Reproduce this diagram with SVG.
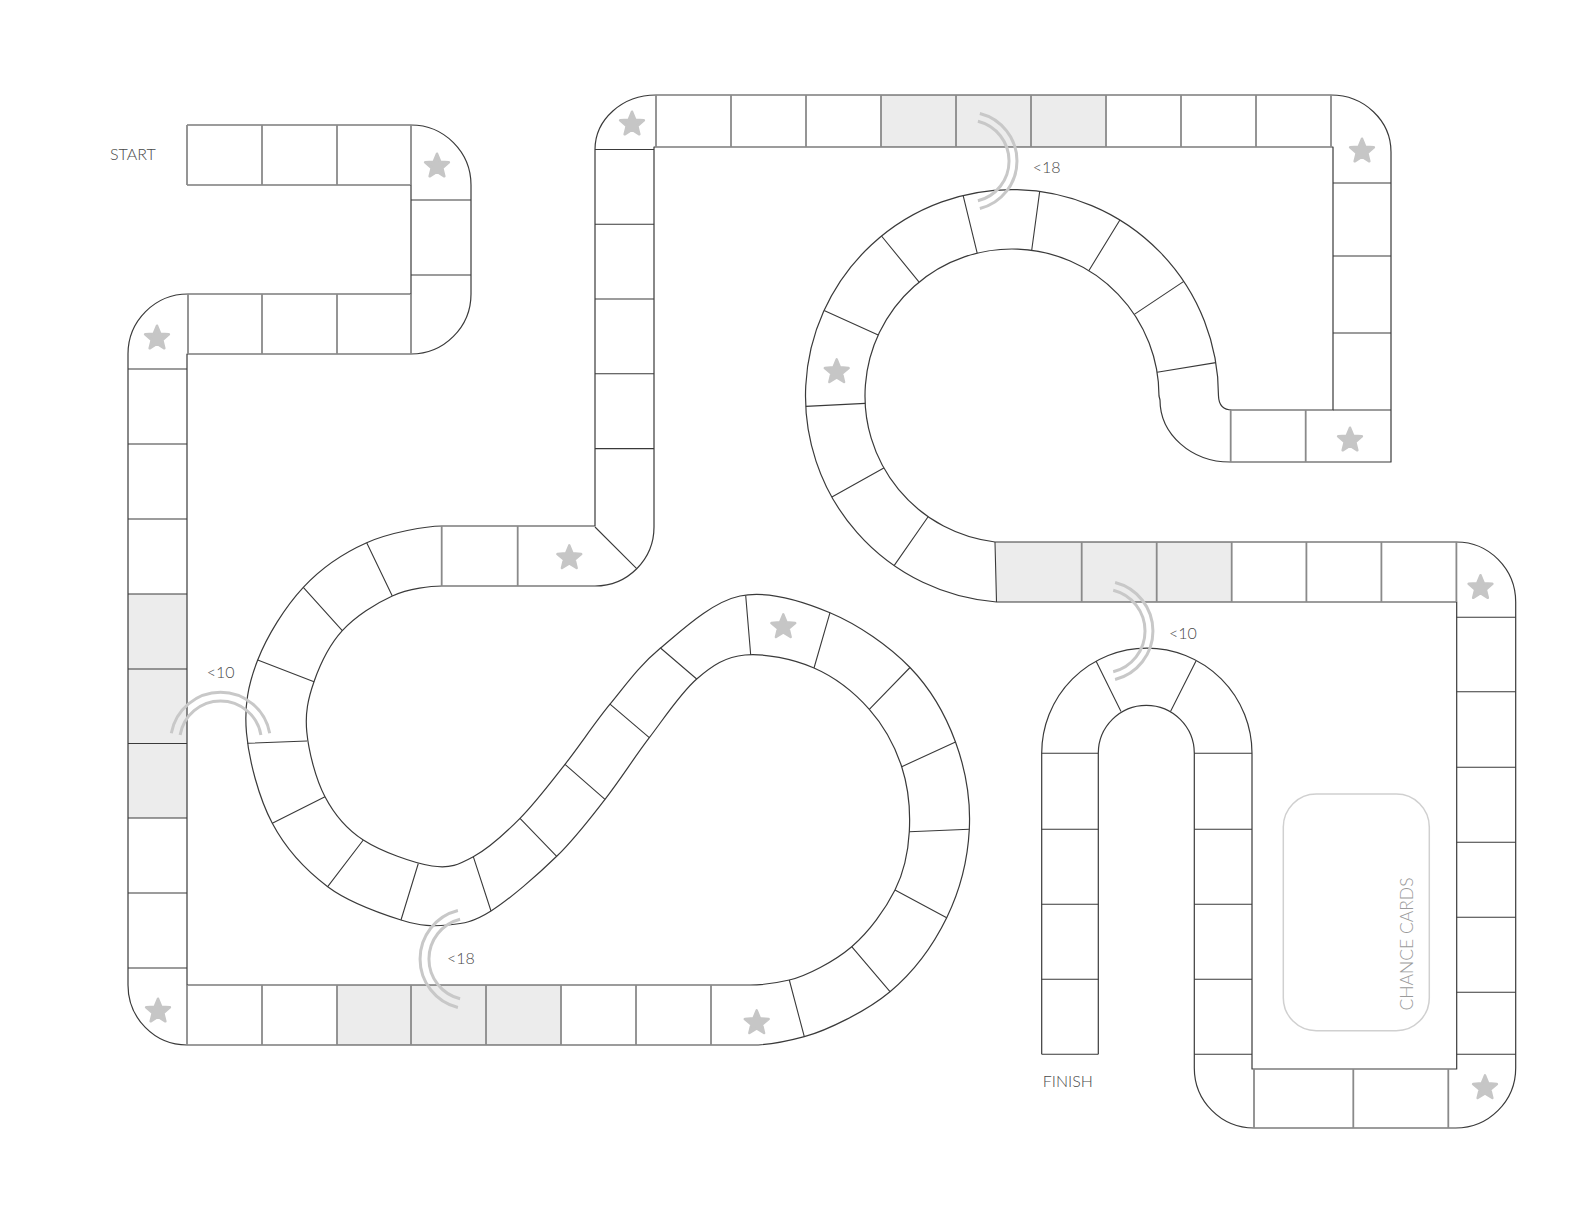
<svg xmlns="http://www.w3.org/2000/svg" xmlns:xlink="http://www.w3.org/1999/xlink" width="1584" height="1224" viewBox="0 0 1584 1224">
<style>
.e{fill:none;stroke:#3a3a3a;stroke-width:1.2;stroke-linejoin:round}
.d{fill:none;stroke:#3a3a3a;stroke-width:1.1}
.v{fill:none;stroke:#8a8a8a;stroke-width:1.8}
.sh{fill:#ececec;stroke:none}
.arc{fill:none;stroke:#c8c8c8;stroke-width:3}
.lbl{font-family:Lato,"Liberation Sans",sans-serif;font-size:16px;fill:#4a4a4a;font-weight:300}
.st{fill:#c6c6c6;stroke:#c6c6c6;stroke-width:2.5;stroke-linejoin:round}
</style>
<defs>
<path id="star" class="st" d="M0,-12.5 L3.29,-4.53 L11.89,-3.86 L5.33,1.73 L7.35,10.11 L0,5.6 L-7.35,10.11 L-5.33,1.73 L-11.89,-3.86 L-3.29,-4.53 Z"/>
</defs>
<rect x="0" y="0" width="1584" height="1224" fill="#fff"/>
<g id="shaded">
<rect class="sh" x="128" y="594" width="59" height="224"/>
<rect class="sh" x="337" y="985" width="224" height="60"/>
<rect class="sh" x="881" y="95" width="225" height="52"/>
<rect class="sh" x="996" y="542" width="235.7" height="60"/>
</g>
<g id="track-edges">
<path class="e" d="M187,125 H411 A60,60 0 0 1 471,185 V294 A60,60 0 0 1 411,354 H187 V985 H750 C763,985 772.3,984 789.3,980 S834.08,961.7 851.7,946.7 S885.4,909.17 895,890 S908.18,852.25 909.3,831.7 S908.37,787.1 901.7,766.7 S883.92,725.75 869.3,709.3 S834.72,677.05 814,668 S764.55,653.17 745,655 S712.65,665.22 696.7,679 S664.58,717.65 649.3,737.7 S620.43,779.53 605,799.3 S575.7,837.68 556.7,856.3 S509.07,899.55 491,911 S463.3,923.5 448.3,925 S421.1,926.38 401,920 S349.15,902.82 327.7,886.7 S285.83,848.92 272.3,823.3 S248.93,760.22 246.5,733 S248.23,684.28 257.7,660 S285.13,606.85 303.3,587.3 S343.63,552.92 366.7,542.7 S426.7,526 441.7,526 H595 V149.5 A61,54.5 0 0 1 656,95 H1331 A60,57 0 0 1 1391,152 V462 H1230 A70,62 0 0 1 1160,400 L1159,396 A147,147 0 1 0 995,542 H1456.4 A59.3,60 0 0 1 1515.7,602 V1068 A60,60 0 0 1 1455.7,1128 H1254 A59.7,60 0 0 1 1194.3,1068 V753.3 A48,48 0 0 0 1098.3,753.3 V1054.3"/>
<path class="e" d="M187,185 H411 V294 H188 A60,60 0 0 0 128,354 V985 A59,60 0 0 0 187,1045 H753 C765,1045 782.3,1042.7 804.3,1036.7 S866.27,1011.53 890,991.7 S933.48,944.77 946.7,917.7 S967.83,858.58 969.3,829.3 S965.38,768.97 955.5,742 S930.92,689.05 910,667.5 S858.33,624.62 830,612.7 S768.25,590.12 740,596 S682.17,629.97 660.5,648 S625.92,684.82 610,704.2 S580,745.28 565,764.3 S535.28,802.9 520,818.3 S487.97,848.75 473.3,856.7 S450.33,868.78 432,866 S381.13,851.55 363.3,840 S334.42,814.7 325,796.7 S308.63,751.17 306.8,732 S308.08,698.58 314,681.7 S329.25,644.98 342.3,630.7 S375.73,603.45 392.3,596 S431.7,586 441.7,586 H595 A59,59 0 0 0 654,527 V147 H1333 V410 H1232 Q1219,410 1218.5,396 A206.5,206.5 0 1 0 996.5,602 H1456.7 V1069 H1252 V753.3 A105.15,105.15 0 0 0 1041.7,753.3 V1054.3"/>
</g>
<g id="curved-dividers">
<path class="d" d="M789.3,980 L804.3,1036.7 M851.7,946.7 L890,991.7 M895,890 L946.7,917.7 M909.3,831.7 L969.3,829.3 M901.7,766.7 L955.5,742 M869.3,709.3 L910,667.5 M814,668 L830,612.7 M750.7,655 L745.7,595.5"/>
<path class="d" d="M696.7,679 L660.5,648 M649.3,737.7 L610,704.2 M605,799.3 L565,764.3 M556.7,856.3 L520,818.3 M491,911 L473.3,856.7 M401,920 L418.3,863.5"/>
<path class="d" d="M327.7,886.7 L363.3,840 M272.3,823.3 L325,796.7 M247.3,743.3 L307,741 M257.7,660 L314,681.7 M303.3,587.3 L342.3,630.7 M366.7,542.7 L392.3,596 M595,527 L636.7,568.7"/>
<path class="d" d="M928.1,516.7 L894.1,565.6 M883.8,467.9 L831.9,497.1 M865.2,403.4 L805.8,406.4 M878.2,335 L824.1,310.4 M919.1,282.1 L881.5,236 M977.2,253.2 L963.1,195.4 M1031.7,250.3 L1039.7,191.4 M1088.8,270.7 L1119.9,220 M1134.3,314.4 L1183.8,281.4 M1157.1,372.2 L1215.8,362.6 M995,542 L996.5,602"/>
<path class="d" d="M1096,661 L1121,711.5 M1196,661 L1170.5,711.5"/>
</g>
<g id="straight-dividers">
<path class="d" d="M411,200 H471 M411,275 H471 M128,369 H187 M128,444 H187 M128,519 H187 M128,594 H187 M128,669 H187 M128,743.5 H187 M128,818 H187 M128,893 H187 M128,968 H187 M595,149.5 H654 M595,224.3 H654 M595,299 H654 M595,373.8 H654 M595,448.6 H654 M1333,183 H1391 M1333,256 H1391 M1333,333 H1391 M1333,410 H1391 M1456.7,617.3 H1515.7 M1456.7,691.7 H1515.7 M1456.7,767.3 H1515.7 M1456.7,842.3 H1515.7 M1456.7,917.3 H1515.7 M1456.7,992.3 H1515.7 M1456.7,1054.3 H1515.7 M1194.3,753.3 H1252 M1194.3,829.3 H1252 M1194.3,904.3 H1252 M1194.3,979.3 H1252 M1194.3,1054.3 H1252 M1041.7,753.3 H1098.3 M1041.7,829.3 H1098.3 M1041.7,904.3 H1098.3 M1041.7,979.3 H1098.3 M1041.7,1054.3 H1098.3"/>
<path class="v" d="M187,125 V185 M262,125 V185 M337,125 V185 M411,125 V185 M411,294 V354 M337,294 V354 M262,294 V354 M188,294 V354 M187,985 V1045 M262,985 V1045 M337,985 V1045 M411,985 V1045 M486,985 V1045 M561,985 V1045 M636,985 V1045 M711,985 V1045 M441.7,526 V586 M517.7,526 V586 M656,95 V147 M731,95 V147 M806,95 V147 M881,95 V147 M956,95 V147 M1031,95 V147 M1106,95 V147 M1181,95 V147 M1256,95 V147 M1331,95 V147 M1230.7,410 V462 M1305.7,410 V462 M1081.7,542 V602 M1156.7,542 V602 M1231.7,542 V602 M1306.4,542 V602 M1381.4,542 V602 M1456.4,542 V602 M1254,1069 V1128 M1353.3,1069 V1128 M1448.3,1069 V1128"/>
</g>
<g id="stars">
<use href="#star" x="437" y="166.2"/>
<use href="#star" x="157" y="338.2"/>
<use href="#star" x="158" y="1011.2"/>
<use href="#star" x="756.7" y="1022.9"/>
<use href="#star" x="783.3" y="626.9"/>
<use href="#star" x="569.3" y="557.9"/>
<use href="#star" x="632" y="124.2"/>
<use href="#star" x="1362" y="151.2"/>
<use href="#star" x="1350" y="440.2"/>
<use href="#star" x="836.7" y="371.9"/>
<use href="#star" x="1480.5" y="587.7"/>
<use href="#star" x="1485" y="1087.9"/>
</g>
<g id="shortcuts">
<path class="arc" d="M979.85,113.46 A49,49 0 0 1 979.85,208.54 M977.9,121.2 A41,41 0 0 1 977.9,200.8"/>
<path class="arc" d="M1115.1,582.5 A50,50 0 0 1 1115.1,679.5 M1113.2,590.3 A42,42 0 0 1 1113.2,671.8"/>
<path class="arc" d="M457.9,910.5 A50,50 0 0 0 457.9,1007.5 M460.1,919.2 A41,41 0 0 0 460.1,998.8"/>
<path class="arc" d="M171.3,733.3 A50,50 0 0 1 269.7,733.3 M180.1,734.9 A41,41 0 0 1 260.9,734.9"/>
<text class="lbl" x="1032.7" y="172.7">&lt;18</text>
<text class="lbl" x="1169" y="639">&lt;10</text>
<text class="lbl" x="447" y="964.3">&lt;18</text>
<text class="lbl" x="206.8" y="678.3">&lt;10</text>
</g>
<g id="labels">
<text class="lbl" x="110" y="159.7">START</text>
<text class="lbl" x="1042.7" y="1086.7">FINISH</text>
</g>
<g id="chance-cards">
<rect x="1283.3" y="794" width="146" height="236.7" rx="33" ry="33" fill="none" stroke="#d0d0d0" stroke-width="1.5"/>
<text class="lbl" transform="translate(1413,944) rotate(-90)" text-anchor="middle" style="font-size:17.5px;fill:#9a9a9a">CHANCE CARDS</text>
</g>
</svg>
